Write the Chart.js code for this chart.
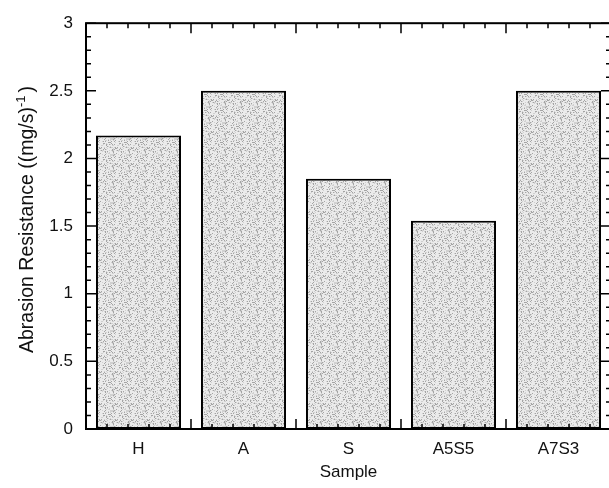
<!DOCTYPE html>
<html>
<head>
<meta charset="utf-8">
<script src="https://cdn.jsdelivr.net/npm/chart.js@4"></script>
<style>
  html, body { margin: 0; padding: 0; overflow: hidden; background: #fff; }
  canvas { display: block; }
</style>
</head>
<body>
<canvas id="chart" width="616" height="488"></canvas>
<script>
const samples = ['H', 'A', 'S', 'A5S5', 'A7S3'];
const resistance = [2.17, 2.5, 1.85, 1.54, 2.5];
const yMin = 0;
const yMax = 3;
const yStep = 0.5;

const FONT = '"Liberation Sans", Arial, Helvetica, sans-serif';

// light grey stipple like the original print fill
function stipple(ctx) {
  const c = document.createElement('canvas');
  c.width = 16; c.height = 16;
  const g = c.getContext('2d');
  g.fillStyle = '#ebebeb';
  g.fillRect(0, 0, 16, 16);
  for (let y = 0; y < 16; y++) {
    for (let x = 0; x < 16; x++) {
      const h = Math.abs(Math.sin(x * 12.9898 + y * 78.233) * 43758.5453) % 1;
      if (h < 0.12) { g.fillStyle = '#a4a4a4'; g.fillRect(x, y, 1, 1); }
      else if (h < 0.3) { g.fillStyle = '#d0d0d0'; g.fillRect(x, y, 1, 1); }
    }
  }
  return ctx.createPattern(c, 'repeat');
}

const frame = {
  id: 'frame',
  afterDatasetsDraw(chart) {
    const { ctx, chartArea: a, scales: { x, y } } = chart;
    ctx.save();
    ctx.strokeStyle = '#000';
    ctx.lineWidth = 1.5;
    ctx.beginPath();
    for (let k = 0; k <= 30; k++) {
      const py = y.getPixelForValue(k / 10);
      const len = k % 5 === 0 ? 10 : 5;
      ctx.moveTo(a.left, py); ctx.lineTo(a.left + len, py);
      ctx.moveTo(a.right, py); ctx.lineTo(a.right - len, py);
    }
    for (let k = 0; k <= samples.length * 5; k++) {
      const px = x.getPixelForValue(k / 5 - 0.5);
      const len = k % 5 === 0 ? 10 : 5;
      ctx.moveTo(px, a.bottom); ctx.lineTo(px, a.bottom - len);
      ctx.moveTo(px, a.top); ctx.lineTo(px, a.top + len);
    }
    ctx.stroke();
    ctx.lineWidth = 2;
    ctx.strokeRect(a.left, a.top, a.right - a.left, a.bottom - a.top);
    ctx.restore();
  },
  afterDraw(chart) {
    const ctx = chart.ctx;
    const main = 'Abrasion Resistance ((mg/s)';
    const sup = '-1';
    const tail = ')';
    ctx.save();
    ctx.fillStyle = '#111';
    ctx.textBaseline = 'alphabetic';
    ctx.translate(33, 219.5);
    ctx.rotate(-Math.PI / 2);
    ctx.font = '19.5px ' + FONT;
    const wMain = ctx.measureText(main).width;
    const wTail = ctx.measureText(tail).width;
    ctx.font = '13px ' + FONT;
    const wSup = ctx.measureText(sup).width;
    const start = -(wMain + wSup + 3 + wTail) / 2;
    ctx.font = '19.5px ' + FONT;
    ctx.fillText(main, start, 0);
    ctx.fillText(tail, start + wMain + wSup + 3, 0);
    ctx.font = '13px ' + FONT;
    ctx.fillText(sup, start + wMain, -8);
    ctx.restore();
  }
};

const ctx = document.getElementById('chart').getContext('2d');
new Chart(ctx, {
  type: 'bar',
  data: {
    labels: samples,
    datasets: [{
      data: resistance,
      backgroundColor: stipple(ctx),
      borderColor: '#000',
      borderWidth: 2,
      borderSkipped: false,
      barPercentage: 0.81,
      categoryPercentage: 1
    }]
  },
  options: {
    responsive: false,
    animation: false,
    devicePixelRatio: 1,
    layout: { padding: { left: 0, right: 5, top: 16, bottom: 0 } },
    plugins: { legend: { display: false }, tooltip: { enabled: false } },
    scales: {
      x: {
        grid: { display: false, drawTicks: false },
        border: { display: false },
        ticks: { color: '#111', font: { family: FONT, size: 17 }, padding: 10, maxRotation: 0 },
        title: { display: true, text: 'Sample', color: '#111', font: { family: FONT, size: 17 }, padding: { top: 0, bottom: 5 } },
        afterFit(s) { s.height = 59; }
      },
      y: {
        min: yMin,
        max: yMax,
        grid: { display: false, drawTicks: false },
        border: { display: false },
        ticks: {
          stepSize: yStep, color: '#111', font: { family: FONT, size: 17 }, padding: 13,
          callback: v => String(v)
        },
        afterFit(s) { s.width = 86; }
      }
    }
  },
  plugins: [frame]
});
</script>
</body>
</html>
